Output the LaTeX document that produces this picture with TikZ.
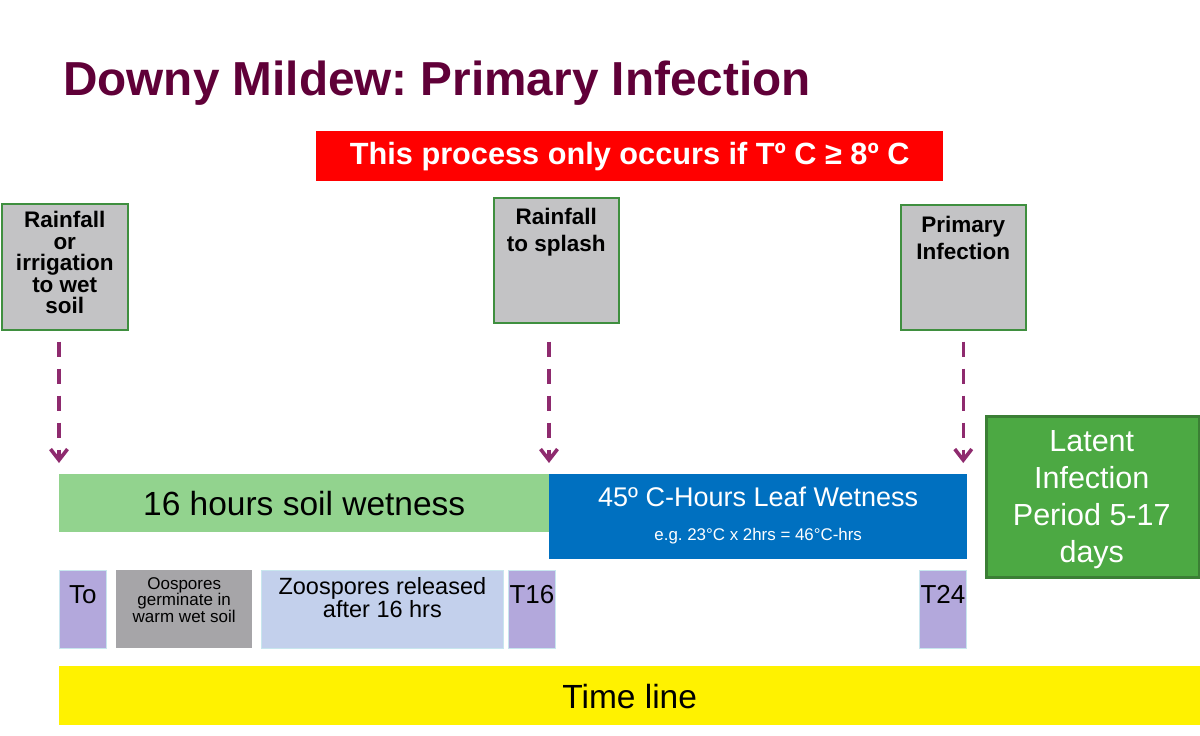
\documentclass[tikz,border=0pt]{standalone}
\usepackage{fontspec}
\setmainfont{Liberation Sans}
\usetikzlibrary{arrows.meta,calc}
\definecolor{titlec}{HTML}{600038}
\definecolor{arrc}{HTML}{8E2A6E}
\definecolor{boxgray}{HTML}{C3C3C5}
\definecolor{boxline}{HTML}{3F8F3F}
\definecolor{soilg}{HTML}{92D38E}
\definecolor{leafb}{HTML}{0070C0}
\definecolor{latg}{HTML}{4CA943}
\definecolor{latline}{HTML}{3B7F35}
\definecolor{lav}{HTML}{B3A8DC}
\definecolor{lavline}{HTML}{C8E6EE}
\definecolor{oosg}{HTML}{A6A5A8}
\definecolor{zoob}{HTML}{C3D0EC}
\tikzset{
  x=1pt,y=-1pt,
  rect/.style={rectangle,inner sep=0pt,anchor=north west},
  event/.style={rect,fill=boxgray,draw=boxline,line width=1.5pt},
  evtext/.style={anchor=north,inner sep=0pt,align=center,font=\fontsize{22.5}{27}\selectfont\bfseries},
  tick/.style={rect,fill=lav,draw=lavline,line width=0.8pt,minimum width=47pt,minimum height=78pt},
  ticktext/.style={anchor=north,inner sep=0pt,font=\fontsize{26}{28}\selectfont},
  darr/.style={draw=arrc,line width=3.2pt,dash pattern=on 15pt off 12pt,
    -{Straight Barb[length=11pt,width=17pt,line width=3.6pt,line join=miter]}},
}
\begin{document}
\frenchspacing
\begin{tikzpicture}
\useasboundingbox (0,0) rectangle (1200,736);
% title
\node[anchor=base west,inner sep=0pt,text=titlec,font=\fontsize{47.7}{50}\selectfont\bfseries] (title) at (63,95) {Downy Mildew: Primary Infection};
% red banner
\node[rect,fill=red,minimum width=627pt,minimum height=50pt] (cond) at (316,131) {};
\node[inner sep=0pt,text=white,font=\fontsize{30.7}{32}\selectfont\bfseries] (condtext) at (cond.center) {This process only occurs if Tº C ≥ 8º C};
% event boxes
\node[event,minimum width=126pt,minimum height=126pt] (r1) at (1,203) {};
\node[evtext,font=\fontsize{22.5}{21.6}\selectfont\bfseries] (r1t) at ($(r1.north)+(0,8)$) {Rainfall\\or\\irrigation\\to wet\\soil};
\node[event,minimum width=125pt,minimum height=125pt] (r2) at (493,197) {};
\node[evtext] (r2t) at ($(r2.north)+(0,11)$) {Rainfall\\to splash};
\node[event,minimum width=125pt,minimum height=125pt] (r3) at (900,204) {};
\node[evtext] (r3t) at ($(r3.north)+(0,12)$) {Primary\\Infection};
% bars
\node[rect,fill=soilg,minimum width=490pt,minimum height=58pt] (soil) at (59,474) {};
\node[inner sep=0pt,font=\fontsize{33.5}{36}\selectfont] (soilt) at (soil.center) {16 hours soil wetness};
\node[rect,fill=leafb,minimum width=418pt,minimum height=85pt] (leaf) at (549,474) {};
\node[anchor=base,inner sep=0pt,text=white,font=\fontsize{27}{30}\selectfont] (leaft) at ($(leaf.north)+(0,32)$) {45º C-Hours Leaf Wetness};
\node[anchor=base,inner sep=0pt,text=white,font=\fontsize{16.9}{18}\selectfont] (leafe) at ($(leaf.north)+(0,66)$) {e.g. 23°C x 2hrs = 46°C-hrs};
\node[rect,fill=latg,draw=latline,line width=2.5pt,minimum width=213pt,minimum height=161pt] (lat) at (985,415) {};
\node[inner sep=0pt,align=center,text=white,font=\fontsize{30.5}{37}\selectfont] (latt) at ($(lat.center)+(-1,3)$) {Latent\\Infection\\Period 5-17\\days};
% ticks
\node[tick] (t0) at (59,570) {};
\node[ticktext] (t0t) at ($(t0.north)+(0,15)$) {To};
\node[rect,fill=oosg,minimum width=136pt,minimum height=78pt] (oos) at (116,570) {};
\node[anchor=north,inner sep=0pt,align=center,font=\fontsize{17}{16.5}\selectfont] (oost) at ($(oos.north)+(0,7)$) {Oospores\\germinate in\\warm wet soil};
\node[rect,fill=zoob,draw=lavline,line width=0.8pt,minimum width=242pt,minimum height=78pt] (zoo) at (261,570) {};
\node[anchor=north,inner sep=0pt,align=center,font=\fontsize{23.5}{23.5}\selectfont] (zoot) at ($(zoo.north)+(0,7)$) {Zoospores released\\after 16 hrs};
\node[tick] (t16) at (508,570) {};
\node[ticktext] (t16t) at ($(t16.north)+(0,15)$) {T16};
\node[tick] (t24) at (919,570) {};
\node[ticktext] (t24t) at ($(t24.north)+(0,15)$) {T24};
% time line
\node[rect,fill=yellow,minimum width=1141pt,minimum height=59pt] (tl) at (59,666) {};
\node[inner sep=0pt,font=\fontsize{33.5}{36}\selectfont] (tlt) at ($(tl.center)+(0,1)$) {Time line};
% arrows
\draw[darr,shorten <=11pt,shorten >=11pt] (r1.south -| soil.west) -- (soil.north west);
\draw[darr,shorten <=18pt,shorten >=11pt] (r2.south -| leaf.west) -- (leaf.north west);
\draw[darr,shorten <=11pt,shorten >=11pt] (r3.south) -- (r3.south |- leaf.north);
\end{tikzpicture}
\end{document}
